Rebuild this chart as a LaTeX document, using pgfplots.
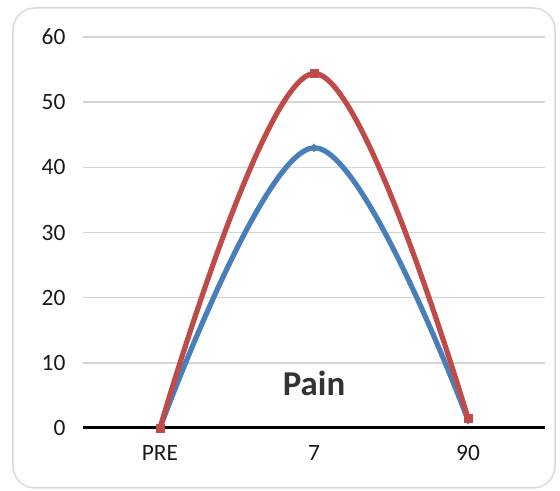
\documentclass[border=0pt]{standalone}
\usepackage{pgfplots}
\pgfplotsset{compat=1.18}
\usepackage{fontspec}
\setmainfont{Carlito}
\definecolor{seriesblue}{HTML}{4A7EBB}
\definecolor{seriesred}{HTML}{BE4B48}
\definecolor{gridgray}{HTML}{D4D4D4}
\definecolor{framegray}{HTML}{D9D9D9}
\begin{document}
\begin{tikzpicture}[x=1bp,y=1bp]
\useasboundingbox (-83,-63) rectangle (477,428);
\draw[framegray, line width=1.5bp, rounded corners=22bp] (-70,-60) rectangle (472,420);
\begin{axis}[
  at={(0,0)}, anchor=south west,
  scale only axis, width=462bp, height=391bp,
  xmin=-0.5, xmax=2.5, ymin=0, ymax=60,
  xtick={0,1,2}, xticklabels={PRE,7,90},
  ytick={0,10,...,60},
  axis line style={draw=none},
  major tick length=0pt,
  ymajorgrids, grid style={gridgray, line width=1.5bp},
  tick label style={font=\fontsize{23.5}{26}\selectfont, text=black!90},
  /pgf/number format/assume math mode=true,
  yticklabel style={xshift=-14bp},
  xticklabel style={yshift=-14bp},
  clip=false,
]
\addplot[seriesblue, line width=5.2bp, smooth, tension=0.6,
  mark=diamond*, mark size=4bp, mark options={fill=seriesblue, line width=0.5bp}]
  coordinates {(0,0) (1,43) (2,1.2)};
\addplot[seriesred, line width=5.2bp, smooth, tension=0.6,
  mark=square*, mark size=4bp, mark options={fill=seriesred, line width=0.5bp}]
  coordinates {(0,0) (1,54.4) (2,1.5)};
\draw[black, line width=3bp] (axis cs:-0.5,0) -- (axis cs:2.5,0);
\node[font=\fontsize{35}{38}\selectfont\bfseries, text=black!80] at (axis cs:1,6.9) {Pain};
\end{axis}
\end{tikzpicture}
\end{document}
